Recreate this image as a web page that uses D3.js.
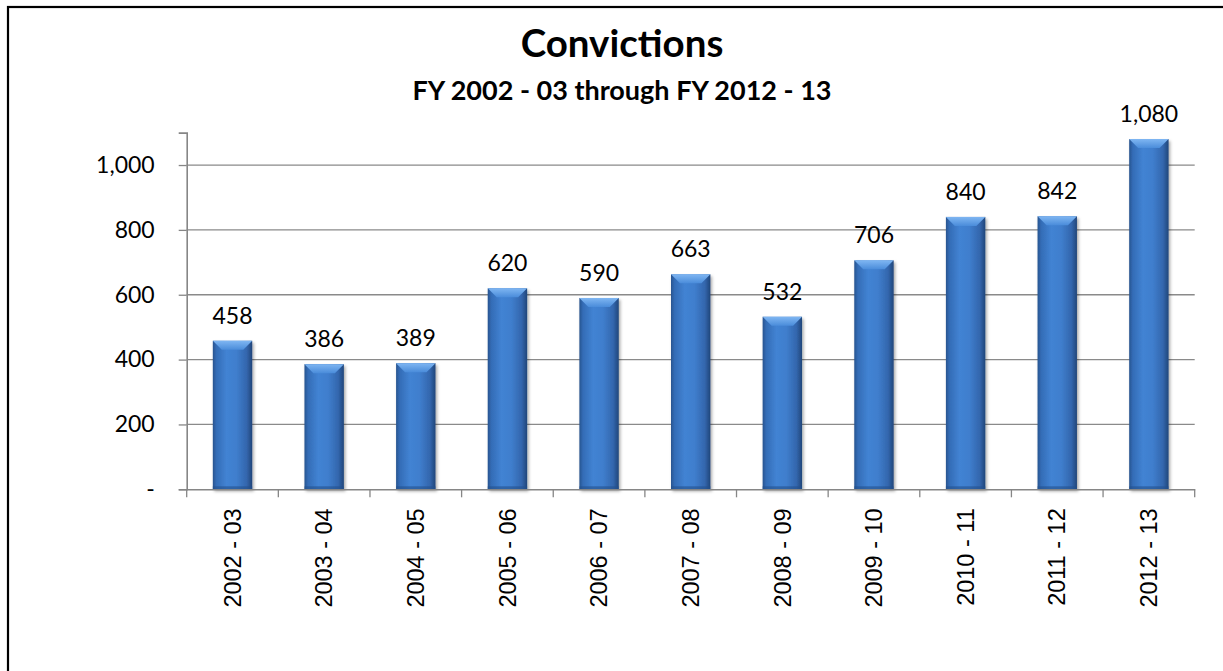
<!DOCTYPE html>
<html>
<head>
<meta charset="utf-8">
<script src="https://cdn.jsdelivr.net/npm/d3@7"></script>
<style>
  html, body { margin: 0; padding: 0; background: #ffffff; }
  svg { display: block; }
</style>
</head>
<body>
<div id="chart"></div>
<script>
// Fiscal years and number of convictions per year
const categories = ["2002 - 03", "2003 - 04", "2004 - 05", "2005 - 06", "2006 - 07",
                    "2007 - 08", "2008 - 09", "2009 - 10", "2010 - 11", "2011 - 12", "2012 - 13"];
const convictions = [458, 386, 389, 620, 590, 663, 532, 706, 840, 842, 1080];
const yTicks = [0, 200, 400, 600, 800, 1000];
const titleText = "Convictions";
const subtitleText = "FY 2002 - 03 through FY 2012 - 13";

const W = 1223, H = 671;
const plot = { left: 186.7, right: 1194.7, top: 132.6, bottom: 489.3 };

const svg = d3.select("#chart").append("svg")
  .attr("width", W).attr("height", H);

const defs = svg.append("defs");

// Horizontal shading that gives each bar a rounded, cylinder-like look
const body = defs.append("linearGradient").attr("id", "barBody")
  .attr("x1", "0%").attr("x2", "100%").attr("y1", "0%").attr("y2", "0%");
[["0%", "#28548f"], ["9%", "#336cb6"], ["35%", "#4283d3"], ["60%", "#3f7ecd"],
 ["86%", "#3366ad"], ["100%", "#21467a"]]
  .forEach(([o, c]) => body.append("stop").attr("offset", o).attr("stop-color", c));

// Lighter bevel across the top of each bar
const bevel = defs.append("linearGradient").attr("id", "barBevel")
  .attr("x1", "0%").attr("x2", "0%").attr("y1", "0%").attr("y2", "100%");
[["0%", "#7fb6f2"], ["100%", "#4a8cda"]]
  .forEach(([o, c]) => bevel.append("stop").attr("offset", o).attr("stop-color", c));

const shadow = defs.append("filter").attr("id", "barShadow")
  .attr("x", "-20%").attr("y", "-5%").attr("width", "150%").attr("height", "115%");
shadow.append("feDropShadow").attr("dx", 1.5).attr("dy", 2).attr("stdDeviation", 1.6)
  .attr("flood-color", "#000").attr("flood-opacity", 0.35);

// Outer chart frame
svg.append("rect")
  .attr("x", 8).attr("y", 7).attr("width", 1400).attr("height", 900)
  .attr("fill", "none").attr("stroke", "#000").attr("stroke-width", 2.2);

// Titles
svg.append("text")
  .attr("x", 622).attr("y", 57)
  .attr("text-anchor", "middle")
  .style("font-family", "Lato, 'Open Sans', sans-serif")
  .style("font-weight", "bold").style("font-size", "38.5px")
  .attr("fill", "#000").text(titleText);

svg.append("text")
  .attr("x", 622).attr("y", 100)
  .attr("text-anchor", "middle")
  .style("font-family", "Lato, 'Open Sans', sans-serif")
  .style("font-weight", "bold").style("font-size", "27px")
  .attr("fill", "#000").text(subtitleText);

// Scales
const x = d3.scaleBand().domain(categories).range([plot.left, plot.right]).padding(0);
const y = d3.scaleLinear().domain([0, 1100]).range([plot.bottom, plot.top]);
const barW = x.bandwidth() * 0.43;

// Gridlines
svg.append("g").selectAll("line")
  .data(yTicks.filter(d => d > 0))
  .join("line")
  .attr("x1", plot.left).attr("x2", plot.right)
  .attr("y1", d => y(d)).attr("y2", d => y(d))
  .attr("stroke", "#8a8a8a").attr("stroke-width", 1.3);

// Y axis
const yAxis = svg.append("g")
  .attr("transform", `translate(${plot.left},0)`)
  .call(d3.axisLeft(y).tickValues(yTicks).tickSize(8).tickPadding(24)
    .tickFormat(d => d === 0 ? "-" : d3.format(",")(d)));
yAxis.select(".domain").attr("stroke", "#868686").attr("stroke-width", 1.6);
yAxis.selectAll(".tick line").attr("stroke", "#868686").attr("stroke-width", 1.3);
yAxis.selectAll(".tick text")
  .style("font-family", "Lato, 'Open Sans', sans-serif")
  .style("font-size", "23px").attr("fill", "#000");

// Bars
const bars = svg.append("g").selectAll("g.bar")
  .data(categories.map((c, i) => ({ c, v: convictions[i] })))
  .join("g").attr("class", "bar");

bars.append("rect")
  .attr("x", d => x(d.c) + (x.bandwidth() - barW) / 2)
  .attr("y", d => y(d.v))
  .attr("width", barW)
  .attr("height", d => y(0) - y(d.v))
  .attr("fill", "url(#barBody)")
  .attr("filter", "url(#barShadow)");

// top bevel
const bevelH = 9, bevelIn = 9;
bars.append("path")
  .attr("d", d => {
    const x0 = x(d.c) + (x.bandwidth() - barW) / 2, x1 = x0 + barW, t = y(d.v);
    return `M${x0},${t}L${x1},${t}L${x1 - bevelIn},${t + bevelH}L${x0 + bevelIn},${t + bevelH}Z`;
  })
  .attr("fill", "url(#barBevel)");

// darker bottom edge
bars.append("rect")
  .attr("x", d => x(d.c) + (x.bandwidth() - barW) / 2)
  .attr("y", y(0) - 3)
  .attr("width", barW).attr("height", 3)
  .attr("fill", "#23508c").attr("opacity", 0.6);

// Value labels
bars.append("text")
  .attr("x", d => x(d.c) + x.bandwidth() / 2)
  .attr("y", d => y(d.v) - 17)
  .attr("text-anchor", "middle")
  .style("font-family", "Lato, 'Open Sans', sans-serif")
  .style("font-size", "23px").attr("fill", "#000")
  .text(d => d3.format(",")(d.v));

// X axis
const xAxis = svg.append("g")
  .attr("transform", `translate(0,${plot.bottom})`)
  .call(d3.axisBottom(x).tickSize(0).tickPadding(0));
xAxis.select(".domain").attr("stroke", "#868686").attr("stroke-width", 1.6);
xAxis.selectAll(".tick line").remove();
xAxis.selectAll(".tick text")
  .attr("transform", "translate(0,19) rotate(-90)")
  .attr("dy", "0.35em").attr("x", 0).attr("y", 0)
  .attr("text-anchor", "end")
  .style("font-family", "'Liberation Sans', Arial, sans-serif")
  .style("font-size", "23.5px").attr("fill", "#000");

// Category boundary ticks
svg.append("g").selectAll("line")
  .data(categories.map(c => x(c)).concat([plot.right]))
  .join("line")
  .attr("x1", d => d).attr("x2", d => d)
  .attr("y1", plot.bottom).attr("y2", plot.bottom + 8)
  .attr("stroke", "#868686").attr("stroke-width", 1.3);
</script>
</body>
</html>
